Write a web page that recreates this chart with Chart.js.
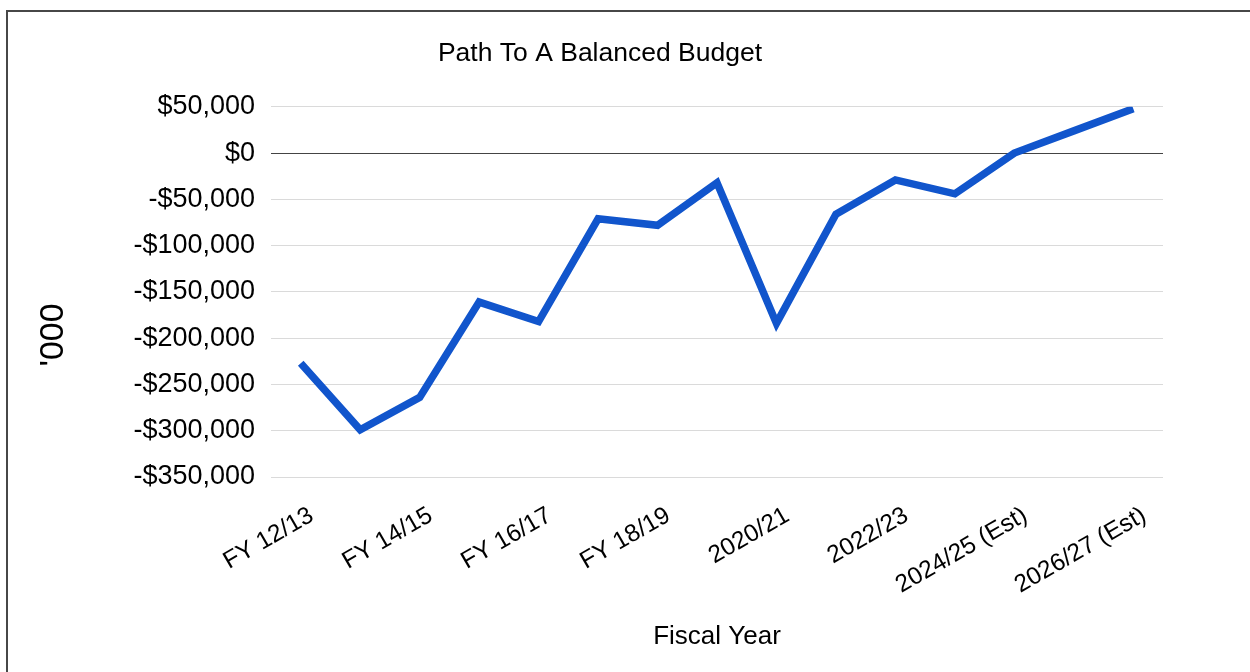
<!DOCTYPE html>
<html>
<head>
<meta charset="utf-8">
<title>Path To A Balanced Budget</title>
<script src="https://cdn.jsdelivr.net/npm/chart.js@4/dist/chart.umd.min.js"></script>
<style>
  html, body { margin: 0; padding: 0; background: #fff; }
  body { width: 1250px; height: 672px; position: relative; overflow: hidden; }
  #frame {
    position: absolute; left: 6px; top: 10px; right: -10px; bottom: -10px;
    border-top: 2px solid #474747; border-left: 2px solid #474747;
  }
  #budgetChart { position: absolute; left: 0; top: 0; }
</style>
</head>
<body>
<div id="frame"></div>
<canvas id="budgetChart" width="1200" height="672"></canvas>
<script>
// Data (dalam ribuan dolar)
const tahun = [
  "FY 12/13", "FY 13/14", "FY 14/15", "FY 15/16", "FY 16/17", "FY 17/18",
  "FY 18/19", "FY 19/20", "2020/21", "2021/22", "2022/23", "2023/24",
  "2024/25 (Est)", "2025/26 (Est)", "2026/27 (Est)"
];
const saldo = [
  -227000, -299000, -264000, -161000, -182000, -71000, -78000, -32000,
  -184000, -66000, -29000, -44000, 0, 24000, 48000
];
const yMin = -350000;
const yMax = 50000;
const yStep = 50000;

const fontFamily = "'Liberation Sans', Arial, sans-serif";

function formatUang(v) {
  const s = "$" + Math.abs(v).toLocaleString("en-US");
  return v < 0 ? "-" + s : s;
}

// judul sumbu Y ('000) digambar sendiri supaya posisinya sama dengan gambar
const judulY = {
  id: "judulY",
  afterDraw(chart) {
    const ctx = chart.ctx;
    ctx.save();
    ctx.translate(63, 335);
    ctx.rotate(-Math.PI / 2);
    ctx.font = "34px " + fontFamily;
    ctx.fillStyle = "#000";
    ctx.textAlign = "center";
    ctx.textBaseline = "alphabetic";
    ctx.fillText("'000", 0, 0);
    ctx.restore();
  }
};

const budgetChart = new Chart(document.getElementById("budgetChart"), {
  type: "line",
  data: {
    labels: tahun,
    datasets: [{
      label: "Balance",
      data: saldo,
      borderColor: "#1155cc",
      borderWidth: 7.5,
      borderJoinStyle: "miter",
      pointRadius: 0,
      fill: false,
      tension: 0
    }]
  },
  options: {
    responsive: false,
    animation: false,
    devicePixelRatio: 1,
    layout: { padding: { left: 37, right: 37, top: 0, bottom: 0 } },
    plugins: {
      legend: { display: false },
      tooltip: { enabled: false },
      title: {
        display: true,
        text: "Path To A Balanced Budget",
        color: "#000",
        font: { family: fontFamily, size: 26.5, weight: "normal", lineHeight: 1.2 },
        padding: { top: 38, bottom: 37 }
      }
    },
    scales: {
      x: {
        offset: true,
        grid: { display: false, drawTicks: false },
        border: { display: false },
        ticks: {
          autoSkip: false,
          maxRotation: 30,
          minRotation: 30,
          padding: 24,
          labelOffset: 11,
          color: "#000",
          font: { family: fontFamily, size: 24.5 },
          callback: function (value, index) {
            return index % 2 === 0 ? this.getLabelForValue(value) : "";
          }
        },
        title: {
          display: true,
          text: "Fiscal Year",
          color: "#000",
          font: { family: fontFamily, size: 26, lineHeight: 1.2 },
          padding: { top: 0, bottom: 20 }
        },
        afterFit(scale) { scale.height = 195; }
      },
      y: {
        min: yMin,
        max: yMax,
        grid: {
          drawTicks: false,
          lineWidth: 1,
          color: (c) => (c.tick && c.tick.value === 0 ? "#444" : "#dadada")
        },
        border: { display: false },
        ticks: {
          stepSize: yStep,
          padding: 16,
          color: "#000",
          font: { family: fontFamily, size: 27 },
          callback: (v) => formatUang(v)
        },
        afterFit(scale) { scale.width = 234; }
      }
    }
  },
  plugins: [judulY]
});
</script>
</body>
</html>
